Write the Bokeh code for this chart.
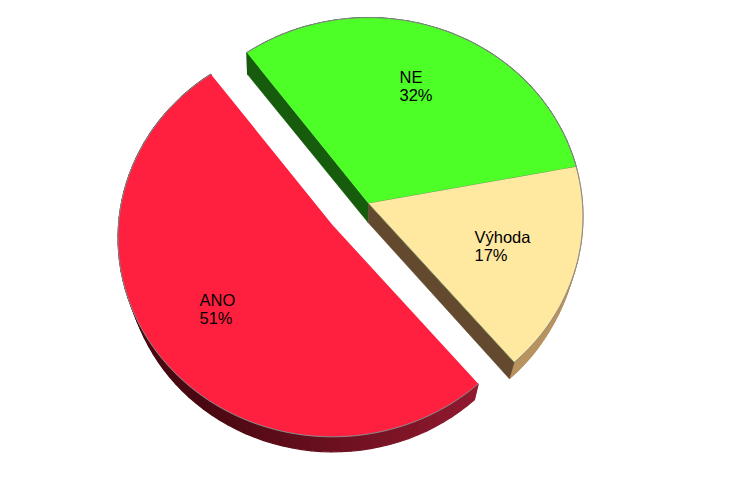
import math
from bokeh.plotting import figure
from bokeh.embed import file_html
from bokeh.resources import INLINE
from bokeh.core.properties import value

labels = ["ANO", "NE", "Výhoda"]
shares = [51.0, 32.2, 16.8]
top_colors = ["#ff2040", "#4dff26", "#ffe8a0"]
cut_colors = [None, "#175c0c", "#63492e"]
wall_colors = [("#4a0812", "#931a30"), ("#175c0c", "#175c0c"), ("#b8935f", "#b8935f")]
label_xy = [(199, 299), (399, 76), (474, 236)]

W, H = 722, 467
AX, AY, K = 214, 198, 0.0653       # projected disc: half axes, perspective
THETA_END_NE = 10.8                # where NE meets Výhoda
APEX = {"ANO": (332, 224.5), "NE": (368, 203), "Výhoda": (368, 203)}
VP_X, VP_Y = 355, 1270             # lower face shrinks towards this point
SCALE_Y = 0.982

def top_pt(apex, deg):
    t = math.radians(deg)
    u, v = math.cos(t), math.sin(t)
    w = 1 + K * v
    return apex[0] + AX * u / w, apex[1] - AY * v / w

def low_pt(pt):
    c = min(0.031, 0.0065 + 0.000095 * max(0.0, pt[1] - 52))
    return pt[0] - (pt[0] - VP_X) * c, VP_Y + (pt[1] - VP_Y) * SCALE_Y

def mix(c1, c2, f):
    a = [int(c1[i:i + 2], 16) for i in (1, 3, 5)]
    b = [int(c2[i:i + 2], 16) for i in (1, 3, 5)]
    return "#%02x%02x%02x" % tuple(round(x + (y - x) * f) for x, y in zip(a, b))

# Angular span of every slice, from its share
deg = {n: s * 3.6 for n, s in zip(labels, shares)}
span = {
    "Výhoda": (THETA_END_NE - deg["Výhoda"], THETA_END_NE),
    "NE": (THETA_END_NE, THETA_END_NE + deg["NE"]),
}
span["ANO"] = (span["NE"][1], span["NE"][1] + deg["ANO"])

p = figure(width=W, height=H, x_range=(0, W), y_range=(H, 0),
           output_backend="svg", toolbar_location=None, min_border=0,
           outline_line_color=None, background_fill_color="white",
           border_fill_color="white")
p.axis.visible = False
p.grid.visible = False

for i, name in enumerate(labels):
    a0, a1 = span[name]
    apex = APEX[name]
    n = 72
    angles = [a0 + (a1 - a0) * k / n for k in range(n + 1)]
    arc = [top_pt(apex, a) for a in angles]
    low = [low_pt(q) for q in arc]

    # outer wall, in facets
    c0, c1 = wall_colors[i]
    for k in range(n):
        c = mix(c0, c1, max(0.0, (arc[k][0] - 200) / 280))
        p.patch([arc[k][0], arc[k + 1][0], low[k + 1][0], low[k][0]],
                [arc[k][1], arc[k + 1][1], low[k + 1][1], low[k][1]],
                fill_color=c, line_color=c, line_width=1.2)

    # cut faces
    if cut_colors[i]:
        end = arc[-1] if name == "NE" else arc[0]
        q = [apex, end, low_pt(end), low_pt(apex)]
        p.patch([a for a, _ in q], [b for _, b in q],
                fill_color=cut_colors[i], line_color=cut_colors[i], line_width=0.5)

for i, name in enumerate(labels):
    a0, a1 = span[name]
    apex = APEX[name]
    n = 90
    arc = [top_pt(apex, a0 + (a1 - a0) * k / n) for k in range(n + 1)]
    px = [apex[0]] + [a for a, _ in arc]
    py = [apex[1]] + [b for _, b in arc]
    p.patch(px, py, fill_color=top_colors[i], line_color=None)
    p.line([a for a, _ in arc], [b for _, b in arc], line_color="#8a8a8a", line_width=1)
    if name != "ANO":
        p.line([apex[0], arc[0][0]], [apex[1], arc[0][1]], line_color="#6f8a60", line_width=0.8)

for (x, y), name, s in zip(label_xy, labels, shares):
    for dy, txt in ((0, name), (18.5, f"{round(s)}%")):
        p.text([x], [y + dy], text=[txt], text_font=value("Liberation Sans"),
               text_font_size="16.5px", text_color="#000000",
               text_baseline="middle", text_align="left")

open("out.html", "w").write(file_html(p, INLINE))
